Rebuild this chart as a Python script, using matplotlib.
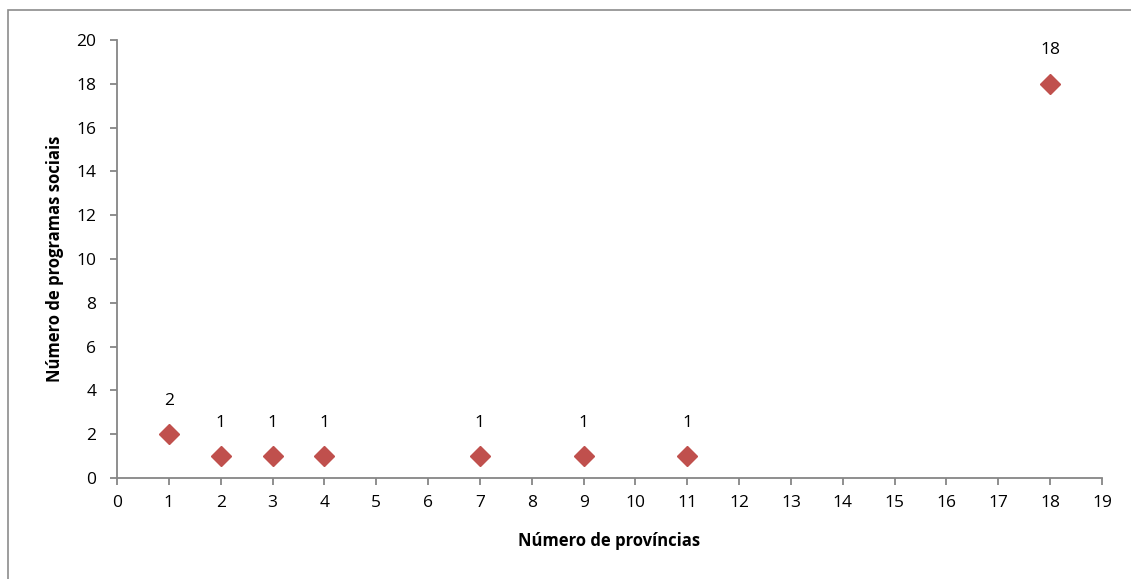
import matplotlib
matplotlib.use("Agg")
import matplotlib.pyplot as plt
from matplotlib.patches import Rectangle

# Number of provinces covered vs. number of social programmes
provincias = [1, 2, 3, 4, 7, 9, 11, 18]
programas = [2, 1, 1, 1, 1, 1, 1, 18]

x_ticks = list(range(0, 20))
y_ticks = list(range(0, 21, 2))

plt.rcParams['font.family'] = ['Open Sans', 'DejaVu Sans']

W, H = 1131, 579
fig = plt.figure(figsize=(W / 100, H / 100), dpi=100)

# outer chart frame
fig.patches.append(Rectangle((8 / W, -0.05), 1.2, 1 - 10 / H + 0.05,
                             transform=fig.transFigure, fill=False,
                             edgecolor='#8c8c8c', linewidth=1.2))

ax = fig.add_axes([117 / W, 1 - 478 / H, (1102 - 117) / W, (478 - 40) / H])

marker_color = '#C0504D'
ax.plot(provincias, programas, linestyle='none', marker='D', markersize=10.5,
        color=marker_color, markeredgecolor=marker_color, clip_on=False, zorder=3)

for px, py in zip(provincias, programas):
    ax.annotate(str(py), (px, py), xytext=(0, 24), textcoords='offset points',
                ha='center', va='center', fontsize=12.5, color='black')

ax.set_xlim(0, 19)
ax.set_ylim(0, 20)
ax.set_xticks(x_ticks)
ax.set_yticks(y_ticks)

for side in ('top', 'right'):
    ax.spines[side].set_visible(False)
for side in ('left', 'bottom'):
    ax.spines[side].set_color('#868686')
    ax.spines[side].set_linewidth(1.3)

ax.tick_params(axis='both', direction='out', length=5, width=1.3,
               color='#868686', labelsize=12.5, labelcolor='black')
ax.tick_params(axis='y', pad=10)
ax.tick_params(axis='x', pad=7)

ax.set_xlabel('Número de províncias', fontsize=12, fontweight='bold', labelpad=15)
ax.set_ylabel('Número de programas sociais', fontsize=12, fontweight='bold', labelpad=9)

fig.savefig('out.png', dpi=100)
